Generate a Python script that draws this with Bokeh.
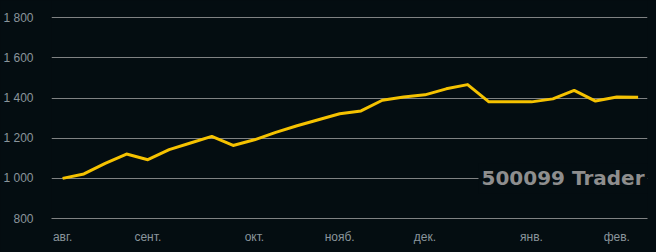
from bokeh.plotting import figure
from bokeh.models import Range1d, FixedTicker, Label
from bokeh.embed import file_html
from bokeh.resources import INLINE

# Data (weekly equity)
equity = [1000, 1022, 1075, 1121, 1093, 1143, 1176, 1209, 1164, 1192,
          1229, 1262, 1292, 1322, 1336, 1389, 1405, 1416, 1446, 1467,
          1381, 1381, 1381, 1396, 1438, 1385, 1405, 1404]
month_ticks = [0, 4, 9, 13, 17, 22, 26]
month_labels = ["авг.", "сент.", "окт.", "нояб.", "дек.", "янв.", "фев."]
y_ticks = [800, 1000, 1200, 1400, 1600, 1800]
y_labels = ["800", "1 000", "1 200", "1 400", "1 600", "1 800"]
watermark = "500099 Trader"

BG = "#040d11"
GRID = "#808283"
TXT = "#8a959c"
FONT = "Liberation Sans"

x = list(range(len(equity)))

p = figure(width=656, height=252, output_backend="svg", toolbar_location=None,
           x_range=Range1d(-0.52, 27.44), y_range=Range1d(800, 1886),
           min_border_left=50, min_border_right=9, min_border_top=0,
           min_border_bottom=34)
p.background_fill_color = BG
p.border_fill_color = BG
p.outline_line_color = None
p.styles = {"background-color": BG}

p.line(x, equity, line_color="#f5c200", line_width=3, line_join="round")

# axes
p.xaxis.ticker = FixedTicker(ticks=month_ticks)
p.xaxis.major_label_overrides = {t: l for t, l in zip(month_ticks, month_labels)}
p.xaxis.axis_line_color = GRID
p.xaxis.major_tick_line_color = None
p.xaxis.minor_tick_line_color = None
p.xaxis.major_label_text_color = TXT
p.xaxis.major_label_text_font = FONT
p.xaxis.major_label_text_font_size = "12px"
p.xaxis.major_label_standoff = 5

p.yaxis.ticker = FixedTicker(ticks=y_ticks)
p.yaxis.major_label_overrides = {t: l for t, l in zip(y_ticks, y_labels)}
p.yaxis.axis_line_color = None
p.yaxis.major_tick_line_color = None
p.yaxis.minor_tick_line_color = None
p.yaxis.major_label_text_color = TXT
p.yaxis.major_label_text_font = FONT
p.yaxis.major_label_text_font_size = "12px"
p.yaxis.major_label_standoff = 12

p.xgrid.grid_line_color = None
p.ygrid.grid_line_color = GRID
p.ygrid.grid_line_width = 1

wm = Label(x=27.44, y=1000, text=watermark, text_align="right",
           text_baseline="middle", text_font="DejaVu Sans",
           text_font_style="bold", text_font_size="20px", text_color="#8e8e8e",
           background_fill_color=BG, padding=3)
p.add_layout(wm)

open("out.html", "w").write(file_html(p, INLINE))
